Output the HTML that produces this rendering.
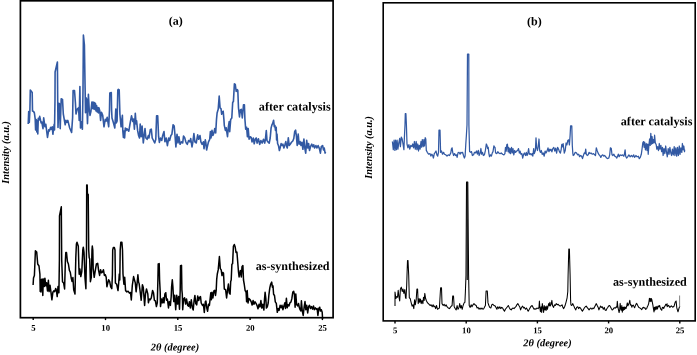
<!DOCTYPE html>
<html><head><meta charset="utf-8"><title>XRD patterns</title>
<style>
html,body{margin:0;padding:0;background:#fff;}
#fig{position:relative;width:697px;height:355px;overflow:hidden;background:#fff;}
svg text{font-family:"Liberation Serif","Times New Roman",serif;font-weight:bold;fill:#000;}
</style></head><body><div id="fig">
<svg width="697" height="355" viewBox="0 0 697 355" style="position:absolute;left:0;top:0">
<rect x="20.4" y="0.8" width="312.7" height="316.9" fill="none" stroke="#000" stroke-width="1.7"/>
<rect x="383.2" y="2.8" width="312" height="318.1" fill="none" stroke="#000" stroke-width="1.6"/>
<line x1="33.2" y1="317.7" x2="33.2" y2="320.1" stroke="#000" stroke-width="1.4"/>
<line x1="105.5" y1="317.7" x2="105.5" y2="320.1" stroke="#000" stroke-width="1.4"/>
<line x1="177.8" y1="317.7" x2="177.8" y2="320.1" stroke="#000" stroke-width="1.4"/>
<line x1="250.1" y1="317.7" x2="250.1" y2="320.1" stroke="#000" stroke-width="1.4"/>
<line x1="322.4" y1="317.7" x2="322.4" y2="320.1" stroke="#000" stroke-width="1.4"/>
<line x1="395.0" y1="320.9" x2="395.0" y2="323.4" stroke="#000" stroke-width="1.4"/>
<line x1="466.2" y1="320.9" x2="466.2" y2="323.4" stroke="#000" stroke-width="1.4"/>
<line x1="537.4" y1="320.9" x2="537.4" y2="323.4" stroke="#000" stroke-width="1.4"/>
<line x1="608.6" y1="320.9" x2="608.6" y2="323.4" stroke="#000" stroke-width="1.4"/>
<line x1="679.8" y1="320.9" x2="679.8" y2="323.4" stroke="#000" stroke-width="1.4"/>
<path d="M28.2,124.0 L28.7,111.5 L29.3,122.5 L29.9,110.5 L30.3,90.0 L32.2,92.5 L32.5,111.0 L33.6,111.5 L34.4,113.0 L35.2,119.2 L35.6,130.0 L36.2,119.5 L36.8,132.0 L37.3,120.5 L37.8,134.0 L38.3,118.2 L39.0,120.0 L39.7,116.4 L41.1,122.9 L41.8,122.0 L43.0,128.6 L43.7,117.8 L44.9,126.7 L45.8,124.2 L47.5,137.5 L48.7,129.9 L49.4,131.0 L50.6,127.4 L51.3,129.3 L52.2,126.7 L52.9,134.3 L54.2,124.2 L54.5,130.0 L55.0,100.0 L55.1,72.0 L57.4,62.0 L57.7,100.0 L58.0,127.4 L58.9,103.2 L59.5,103.8 L60.2,128.6 L61.2,98.8 L62.5,99.4 L63.3,114.0 L65.2,124.8 L65.9,120.4 L66.9,122.3 L67.8,120.4 L69.7,128.0 L71.6,132.4 L72.6,117.8 L73.1,90.5 L74.5,90.5 L75.4,102.6 L76.0,114.0 L77.3,109.0 L78.6,107.7 L79.2,120.4 L79.6,100.0 L79.9,86.5 L80.5,128.0 L81.5,121.7 L82.4,129.3 L83.0,90.0 L83.4,35.0 L84.4,45.0 L85.1,88.0 L85.5,112.8 L85.9,97.6 L86.6,98.8 L87.5,123.6 L88.4,94.4 L89.2,109.0 L90.0,115.4 L90.9,111.6 L91.9,102.0 L92.5,108.5 L93.1,102.0 L93.7,109.0 L94.3,102.5 L94.9,109.5 L95.4,103.2 L96.0,111.0 L96.6,105.5 L97.2,112.0 L98.0,107.5 L98.5,113.0 L98.9,107.8 L99.8,111.0 L100.6,120.5 L101.5,112.2 L102.7,115.4 L104.0,126.8 L105.3,119.2 L106.2,121.1 L107.2,117.3 L108.7,126.8 L109.5,110.0 L109.8,93.0 L111.3,92.6 L111.6,110.0 L112.0,118.0 L113.5,123.0 L114.8,128.0 L115.8,109.0 L116.3,123.0 L117.1,121.0 L117.8,90.0 L118.4,89.4 L119.2,90.0 L119.9,114.1 L121.1,126.8 L121.7,121.7 L122.4,115.4 L122.8,130.6 L123.4,137.5 L124.0,131.0 L124.6,138.0 L125.3,128.0 L126.0,130.6 L126.9,128.7 L128.8,131.2 L130.0,124.0 L131.5,115.8 L132.8,121.5 L133.6,119.0 L134.4,129.1 L135.3,113.2 L136.1,124.0 L136.6,120.9 L137.6,130.4 L138.6,135.5 L139.5,138.0 L140.2,124.0 L141.2,136.7 L142.1,126.0 L143.3,143.0 L145.0,128.5 L145.9,138.0 L147.1,139.3 L148.4,135.5 L149.0,138.0 L150.3,129.7 L151.3,129.1 L152.2,138.0 L153.5,140.5 L154.7,143.0 L155.8,139.3 L156.6,115.8 L157.7,115.8 L158.6,136.7 L159.4,142.4 L160.5,138.0 L161.7,140.5 L162.7,135.5 L164.0,131.6 L164.9,141.8 L166.2,138.0 L167.4,145.6 L168.7,138.0 L169.6,140.5 L170.9,135.5 L171.9,134.2 L173.1,124.7 L174.2,126.0 L175.0,135.5 L175.9,146.9 L177.0,134.2 L178.0,143.0 L178.9,136.7 L180.1,144.3 L181.4,141.8 L182.7,143.0 L183.5,136.1 L184.6,137.4 L185.8,141.8 L186.3,143.0 L187.3,144.3 L188.6,140.5 L189.8,141.8 L190.7,138.6 L192.0,146.9 L192.9,141.8 L193.9,133.5 L194.9,141.8 L196.2,143.0 L197.7,134.8 L198.7,139.3 L200.0,135.5 L200.9,141.8 L202.1,144.3 L203.4,141.8 L204.0,148.8 L205.3,139.9 L205.9,143.0 L206.6,150.0 L207.6,145.6 L208.5,141.8 L209.7,139.3 L210.4,131.6 L211.0,138.0 L212.0,130.4 L212.9,135.5 L213.9,132.9 L214.8,128.5 L215.7,132.9 L216.5,119.4 L217.1,113.0 L218.2,109.3 L219.2,96.0 L220.1,108.0 L221.0,108.6 L221.7,114.3 L222.6,111.8 L223.2,111.2 L223.9,119.4 L224.3,125.3 L225.4,130.4 L226.2,127.8 L227.5,136.7 L228.4,126.6 L229.2,121.5 L229.7,131.6 L230.7,119.4 L231.8,118.0 L232.7,102.3 L233.4,101.6 L234.4,83.9 L235.3,84.5 L236.2,91.5 L237.2,89.6 L237.8,90.2 L238.5,108.0 L239.5,116.9 L240.4,109.9 L241.3,109.3 L242.3,118.0 L243.5,104.8 L244.4,104.8 L244.9,119.0 L245.7,129.2 L246.6,127.3 L247.4,136.8 L248.2,128.6 L249.1,139.3 L250.2,136.8 L251.2,137.4 L252.0,141.9 L253.3,138.0 L254.2,143.8 L255.2,139.3 L256.2,138.0 L257.1,143.1 L258.4,138.7 L259.7,144.4 L260.9,140.6 L262.2,143.1 L263.5,139.3 L264.7,143.1 L265.4,139.3 L266.3,130.5 L267.0,140.6 L267.9,141.9 L269.2,143.1 L270.2,138.0 L271.1,127.9 L272.0,124.7 L272.7,123.5 L273.6,120.3 L274.3,126.6 L274.9,125.4 L275.5,130.5 L276.2,127.3 L276.6,140.0 L277.0,134.0 L277.6,143.5 L278.6,146.0 L279.4,150.5 L280.3,147.3 L281.1,143.6 L282.0,145.5 L282.9,144.2 L283.9,148.0 L284.9,144.8 L285.8,141.6 L286.7,146.7 L287.3,148.0 L288.3,137.8 L289.2,145.5 L290.2,144.2 L291.5,142.3 L292.8,141.0 L293.8,138.5 L294.7,131.5 L295.6,130.2 L296.3,135.3 L297.2,145.5 L298.2,134.0 L299.1,144.2 L300.1,141.6 L301.0,145.5 L301.9,142.3 L302.9,149.3 L303.9,139.1 L304.8,148.0 L305.7,153.1 L306.7,140.4 L307.7,148.0 L308.6,143.6 L309.5,150.5 L310.5,146.7 L311.8,144.2 L312.8,146.7 L313.7,144.8 L314.6,148.0 L315.9,145.5 L316.9,148.0 L318.1,145.5 L319.4,148.6 L320.4,153.1 L321.3,146.7 L322.6,145.5 L323.5,149.9 L324.2,148.0 L325.1,153.1 L325.5,151.8" fill="none" stroke="#3259a3" stroke-width="1.6" stroke-linejoin="round"/>
<path d="M33.1,285.0 L33.5,278.0 L34.4,275.5 L35.4,250.7 L36.7,252.0 L37.7,264.0 L39.0,266.0 L39.9,274.2 L40.2,291.6 L40.6,280.0 L41.0,292.0 L41.4,279.5 L41.8,290.0 L42.2,279.0 L42.8,295.4 L43.2,282.0 L43.7,278.9 L44.3,286.5 L44.9,278.2 L45.8,285.8 L46.6,282.7 L47.5,290.9 L48.4,280.2 L49.1,291.6 L50.0,285.2 L50.9,291.6 L51.9,299.8 L52.9,292.2 L53.8,290.9 L54.7,291.6 L55.7,288.4 L56.4,290.3 L57.2,296.6 L58.0,286.5 L58.9,292.8 L59.4,260.0 L59.5,216.0 L61.3,206.8 L61.7,260.0 L62.5,281.8 L63.6,283.0 L64.6,289.0 L65.4,260.0 L65.8,252.6 L66.5,252.6 L67.4,261.5 L68.4,264.0 L69.4,270.4 L70.3,272.3 L71.2,278.0 L72.0,281.4 L72.9,277.6 L73.7,289.7 L75.0,294.1 L75.8,257.7 L76.4,244.0 L77.0,242.3 L78.3,246.3 L78.9,268.0 L79.2,274.2 L79.9,269.0 L80.8,276.6 L81.8,271.6 L82.8,250.0 L83.3,247.2 L84.0,252.0 L85.0,277.9 L85.9,288.7 L86.5,250.0 L86.7,185.0 L87.2,185.0 L87.4,194.0 L88.2,194.5 L88.7,250.0 L89.2,257.6 L89.7,258.9 L90.4,281.7 L91.3,277.3 L92.0,250.0 L92.3,246.0 L92.8,250.0 L93.2,269.0 L94.2,277.3 L95.1,271.6 L96.4,264.0 L97.7,263.3 L98.6,270.3 L99.6,275.4 L100.6,269.7 L101.5,272.8 L102.4,272.2 L103.4,269.7 L104.4,275.4 L105.3,274.7 L106.2,277.3 L106.9,286.8 L107.8,283.0 L108.7,279.8 L109.7,281.7 L110.7,286.8 L111.8,288.7 L112.4,275.0 L112.7,250.0 L113.3,247.6 L114.4,247.6 L115.0,250.0 L115.4,283.0 L116.7,284.3 L118.0,290.6 L118.7,283.0 L119.3,274.0 L119.8,280.0 L120.2,250.0 L120.8,242.3 L121.9,242.3 L122.5,250.0 L123.0,274.0 L123.9,284.3 L124.7,277.3 L125.6,290.6 L126.9,291.9 L128.1,291.2 L129.4,293.1 L130.5,292.5 L131.3,300.0 L132.3,285.5 L133.6,276.6 L134.4,279.7 L135.3,282.9 L136.1,291.8 L137.0,284.2 L137.9,274.7 L138.6,282.3 L139.1,283.5 L139.9,289.3 L141.2,300.3 L142.4,284.8 L143.3,287.6 L144.6,305.4 L145.5,293.9 L146.5,288.9 L147.8,293.9 L148.4,302.8 L149.3,299.0 L150.3,299.7 L151.3,297.8 L152.6,290.5 L153.5,292.7 L154.4,300.3 L155.4,300.9 L156.4,306.6 L157.3,302.8 L157.9,280.0 L158.2,263.9 L159.2,263.6 L159.6,280.0 L160.2,291.8 L160.5,306.6 L161.5,299.0 L162.4,302.8 L163.2,297.8 L164.0,302.8 L164.9,294.0 L165.8,292.7 L166.5,300.3 L167.4,299.0 L168.5,307.9 L169.3,301.6 L170.4,305.4 L171.2,296.5 L171.6,286.7 L172.3,279.7 L172.9,286.7 L173.4,296.2 L173.8,301.6 L174.7,295.2 L175.7,309.8 L176.7,295.2 L177.6,304.1 L178.6,296.5 L179.5,309.2 L180.2,290.0 L180.5,265.8 L181.5,265.4 L181.9,290.0 L182.3,294.3 L182.7,309.8 L183.6,299.0 L184.6,297.8 L185.6,304.1 L186.5,299.0 L187.7,305.4 L188.6,306.2 L189.4,301.7 L190.3,308.0 L191.3,299.8 L192.4,308.0 L193.2,310.0 L194.1,300.5 L194.9,295.4 L195.8,303.6 L196.7,304.9 L197.7,296.0 L198.7,300.5 L199.6,297.3 L200.5,296.6 L201.2,303.0 L202.5,305.5 L203.4,304.3 L204.3,312.5 L205.3,301.7 L205.9,301.1 L206.8,308.0 L207.6,311.2 L208.5,304.3 L209.4,305.5 L210.1,299.2 L210.8,292.8 L211.4,299.8 L212.0,292.2 L212.9,297.9 L213.9,290.9 L214.8,290.3 L215.5,295.4 L216.2,290.3 L216.7,279.4 L217.3,274.0 L218.2,269.9 L219.4,256.6 L220.3,268.6 L221.2,269.9 L222.0,275.6 L222.7,272.4 L223.5,273.0 L224.0,282.7 L224.3,289.0 L225.6,289.7 L226.6,297.9 L227.5,290.3 L228.4,284.0 L229.2,292.8 L230.1,294.1 L230.7,281.4 L231.2,280.0 L231.9,264.2 L232.6,263.6 L233.4,246.4 L234.3,244.5 L235.2,247.0 L236.0,252.5 L236.9,252.0 L237.4,258.0 L238.5,272.0 L239.1,276.9 L240.4,270.5 L241.3,276.9 L242.0,266.7 L242.9,265.5 L243.5,280.0 L244.2,284.0 L245.1,290.4 L246.1,292.3 L246.6,301.8 L247.2,290.4 L248.0,303.0 L248.9,298.6 L250.2,299.9 L251.2,301.8 L252.1,305.0 L253.1,300.5 L254.0,304.3 L255.0,301.8 L256.2,303.7 L257.1,305.6 L258.0,308.8 L259.0,304.3 L260.0,306.9 L260.9,300.5 L261.8,308.1 L262.8,304.3 L263.9,310.0 L264.5,299.3 L265.1,292.3 L265.8,298.0 L266.4,308.1 L267.3,306.9 L268.2,303.0 L268.9,294.8 L269.8,287.8 L270.7,284.0 L271.7,282.1 L272.4,287.2 L273.0,285.9 L273.6,294.2 L274.5,295.5 L275.3,301.8 L276.3,303.4 L277.3,312.3 L278.2,308.5 L279.1,310.4 L280.1,305.3 L281.1,307.8 L282.0,305.3 L282.9,309.7 L283.9,305.9 L284.9,302.7 L285.5,308.5 L286.4,298.3 L287.2,307.8 L288.1,304.6 L289.0,305.9 L290.0,302.7 L290.9,302.1 L291.8,298.9 L292.8,292.0 L293.7,291.3 L294.4,294.5 L295.1,307.2 L295.8,293.9 L296.6,304.6 L297.6,305.9 L298.5,303.4 L299.4,307.8 L300.1,309.7 L300.8,311.0 L301.4,300.8 L302.3,311.0 L303.2,315.4 L304.2,306.6 L305.0,301.5 L305.8,309.7 L306.7,305.3 L307.7,312.9 L308.6,306.6 L309.5,305.3 L310.5,308.5 L311.5,306.6 L312.6,309.1 L313.5,305.9 L314.3,309.7 L315.4,307.8 L316.2,309.1 L317.1,308.5 L317.9,315.4 L318.8,308.5 L319.7,307.2 L320.4,311.0 L321.3,309.7 L322.2,312.3 L322.6,319.0" fill="none" stroke="#000" stroke-width="1.5" stroke-linejoin="round"/>
<path d="M392.4,141.5 L393.3,149.7 L394.1,140.2 L394.9,150.4 L395.6,140.2 L396.4,149.7 L397.1,140.2 L397.9,149.1 L398.8,142.8 L399.7,138.3 L400.4,146.6 L401.3,137.1 L402.2,139.0 L403.0,144.0 L403.9,149.7 L404.5,135.2 L405.0,125.0 L405.3,113.6 L405.9,113.6 L406.4,125.0 L407.0,144.0 L407.9,147.8 L408.9,144.7 L409.8,149.1 L410.8,145.3 L411.9,146.6 L412.7,144.0 L413.6,147.8 L414.4,141.5 L415.3,149.1 L416.2,141.5 L416.9,149.7 L417.8,144.0 L418.5,151.0 L419.3,145.3 L420.1,149.1 L421.0,141.5 L421.6,147.2 L422.3,139.6 L423.2,146.6 L423.9,139.6 L424.5,145.9 L425.2,137.7 L425.8,139.0 L426.3,150.4 L427.3,152.3 L428.6,154.2 L429.9,153.6 L430.9,156.1 L431.8,154.2 L432.7,155.5 L433.4,158.0 L434.3,153.6 L435.2,152.3 L436.0,151.0 L436.9,154.8 L437.7,156.1 L438.5,152.3 L439.0,130.1 L440.0,130.1 L440.6,152.3 L441.5,151.0 L442.5,154.2 L443.6,152.3 L444.4,154.2 L445.7,154.8 L447.0,156.1 L448.2,154.8 L449.5,155.5 L450.8,152.9 L451.4,149.1 L452.1,147.8 L452.7,152.3 L453.6,155.5 L454.6,153.6 L455.5,155.5 L456.5,154.8 L457.1,157.4 L458.0,152.9 L459.0,152.3 L460.1,154.2 L460.9,152.3 L461.8,152.9 L462.6,152.3 L463.5,155.5 L464.4,158.0 L465.1,156.1 L465.8,144.0 L466.4,135.2 L467.0,125.0 L467.5,54.0 L468.8,54.0 L468.9,125.0 L469.6,151.6 L470.5,152.3 L471.5,151.6 L472.4,155.5 L473.6,154.8 L474.5,152.3 L475.5,152.9 L476.5,151.0 L477.4,154.2 L478.3,150.4 L479.1,155.5 L480.0,153.6 L480.9,148.5 L481.6,154.2 L482.5,152.3 L483.4,155.5 L484.4,154.8 L485.4,150.4 L486.3,144.0 L487.0,145.3 L487.6,148.5 L488.2,147.2 L488.9,153.6 L489.5,156.7 L490.5,154.8 L491.4,156.1 L492.3,152.9 L493.0,151.6 L493.9,145.9 L494.6,147.2 L495.0,147.3 L495.6,153.0 L496.9,153.6 L497.8,151.7 L498.8,153.0 L500.1,153.6 L501.3,153.0 L502.6,154.3 L503.9,154.9 L504.9,153.6 L505.5,147.3 L506.2,151.1 L506.8,144.7 L507.4,144.1 L508.1,151.7 L508.7,147.3 L509.3,153.0 L510.0,148.6 L510.6,153.6 L511.5,147.3 L512.3,153.0 L513.0,148.6 L513.8,154.9 L514.7,150.5 L515.6,152.4 L516.6,151.1 L517.6,150.5 L518.5,148.6 L519.4,153.0 L520.1,151.1 L521.0,154.3 L521.9,153.6 L522.7,158.1 L523.6,154.3 L524.4,153.0 L525.5,155.5 L526.3,152.4 L527.1,155.5 L528.0,152.4 L528.6,148.6 L529.3,154.3 L530.3,153.6 L531.2,154.9 L532.1,153.6 L532.8,156.2 L533.7,148.6 L534.3,153.6 L535.4,150.5 L536.0,137.8 L536.6,147.3 L537.5,150.5 L538.1,147.3 L539.0,139.0 L539.7,150.5 L540.4,152.4 L541.3,150.5 L542.2,154.3 L543.2,153.0 L544.2,156.2 L545.1,151.1 L546.0,153.0 L547.0,151.1 L548.0,147.9 L548.9,151.7 L549.8,149.2 L550.0,150.6 L551.0,149.3 L551.9,151.9 L552.8,148.7 L553.8,147.4 L554.8,151.2 L555.7,148.1 L556.6,153.1 L557.6,147.4 L558.6,149.3 L559.5,151.9 L560.4,153.1 L561.2,149.3 L561.8,144.3 L562.4,146.8 L563.1,143.6 L563.7,148.1 L564.3,153.1 L565.2,150.6 L566.1,143.0 L566.9,144.9 L567.8,140.5 L568.7,139.8 L569.4,144.9 L570.1,135.4 L570.6,125.9 L571.8,125.9 L572.3,145.5 L572.8,153.1 L573.2,155.5 L574.1,154.8 L575.2,152.3 L576.4,152.9 L577.7,154.8 L578.7,154.2 L579.6,156.7 L580.5,155.5 L581.5,156.1 L582.5,158.6 L583.4,155.5 L584.3,152.9 L585.1,153.6 L585.7,149.1 L586.3,154.2 L587.2,155.5 L588.2,154.8 L589.1,152.3 L590.1,153.6 L591.0,152.9 L592.3,154.2 L593.6,153.6 L594.6,154.8 L595.5,155.5 L596.3,147.8 L597.1,150.4 L598.0,152.9 L599.0,154.8 L599.9,155.5 L600.8,157.4 L601.8,155.5 L602.8,154.8 L603.7,156.1 L604.6,155.5 L605.6,156.7 L606.6,158.0 L607.9,158.6 L608.8,158.0 L609.7,154.8 L610.4,147.8 L611.3,148.5 L612.0,154.8 L612.8,155.5 L613.9,154.2 L614.7,156.1 L615.8,156.7 L616.8,158.0 L617.7,156.1 L618.3,154.2 L619.2,156.7 L620.0,154.9 L621.3,155.5 L622.5,154.9 L623.8,156.2 L624.4,154.3 L625.1,149.8 L625.7,156.2 L626.6,158.1 L627.6,156.8 L628.9,154.9 L630.2,156.8 L631.4,155.5 L632.7,156.8 L633.7,154.9 L634.6,157.4 L635.9,155.5 L637.1,156.8 L638.4,156.2 L639.3,158.7 L640.3,157.4 L641.3,154.3 L642.2,147.9 L642.8,142.8 L643.5,141.6 L644.1,147.3 L644.7,142.2 L645.4,149.8 L646.3,143.5 L647.0,150.5 L647.7,144.1 L648.2,154.3 L648.9,145.4 L649.6,139.0 L650.2,145.4 L650.8,133.3 L651.5,144.1 L652.1,136.5 L652.7,143.5 L653.4,139.7 L654.0,142.8 L654.6,135.2 L655.3,142.8 L656.2,144.7 L656.8,149.2 L657.7,146.6 L658.5,150.5 L659.3,143.5 L660.0,149.2 L660.9,145.4 L661.6,151.7 L662.5,147.3 L663.1,155.5 L664.0,148.6 L664.8,153.6 L665.7,146.0 L666.6,153.0 L667.3,156.8 L668.2,148.6 L669.1,154.3 L669.9,147.3 L670.8,153.0 L671.6,155.5 L672.4,149.2 L673.3,154.9 L674.2,146.6 L674.9,155.5 L675.8,147.9 L676.7,156.2 L677.5,147.3 L678.4,155.5 L679.3,146.0 L680.0,154.3 L680.9,147.9 L681.8,152.4 L682.4,143.5 L683.1,149.8 L683.8,146.0 L684.5,151.7 L684.7,149.8" fill="none" stroke="#3259a3" stroke-width="1.25" stroke-linejoin="round"/>
<path d="M395.0,306.1 L395.0,292.1 L395.9,298.5 L396.6,296.6 L397.5,297.2 L398.2,290.2 L398.9,296.6 L399.7,301.0 L400.4,289.0 L401.3,287.1 L402.2,291.5 L403.0,289.0 L403.9,293.4 L404.8,289.6 L405.5,297.8 L406.0,298.5 L406.7,285.2 L407.0,275.0 L407.5,260.4 L408.0,260.4 L408.7,275.0 L409.3,297.8 L410.2,298.5 L411.1,302.3 L412.1,306.1 L413.0,304.8 L413.8,308.6 L414.6,299.7 L415.3,304.8 L416.2,299.7 L416.9,289.0 L417.6,289.0 L418.2,303.6 L419.1,298.5 L419.7,302.3 L420.4,299.1 L421.2,303.6 L422.0,300.4 L422.9,303.6 L423.5,297.2 L424.2,300.4 L424.8,293.4 L425.6,298.5 L426.5,301.0 L427.6,302.9 L428.9,304.2 L430.1,305.5 L431.1,304.8 L432.2,306.7 L433.1,304.8 L433.9,306.7 L434.7,306.1 L435.6,308.6 L436.5,305.5 L437.5,309.3 L438.5,308.6 L439.4,308.0 L440.0,297.8 L440.6,287.7 L441.5,287.7 L442.0,303.6 L443.2,305.5 L444.1,304.2 L445.1,306.1 L446.1,304.8 L447.0,306.7 L448.2,308.0 L449.5,308.6 L450.8,306.7 L452.1,305.5 L452.7,295.9 L453.5,295.9 L454.2,306.7 L455.2,308.6 L456.2,309.9 L457.1,305.5 L458.0,309.3 L459.0,307.4 L459.7,303.6 L460.6,308.0 L461.3,305.5 L462.2,309.3 L463.1,305.5 L464.1,302.9 L464.9,302.3 L465.4,291.5 L466.0,275.0 L466.5,182.0 L467.8,182.0 L468.6,275.0 L469.2,305.5 L470.2,307.4 L471.1,304.8 L472.0,306.7 L473.0,304.8 L474.0,303.6 L474.9,304.8 L476.2,305.5 L477.1,308.0 L478.1,307.4 L479.1,309.3 L480.0,308.0 L480.9,309.3 L481.9,308.0 L482.9,309.3 L483.8,308.6 L484.7,306.7 L485.4,305.5 L486.1,290.9 L487.3,290.9 L488.0,302.9 L488.9,305.5 L489.7,307.4 L490.8,308.0 L491.8,304.8 L492.7,304.2 L493.9,305.5 L495.2,306.1 L496.5,308.6 L496.0,307.4 L496.9,309.3 L497.8,306.7 L498.8,308.6 L499.8,306.7 L500.7,308.6 L501.6,307.4 L502.6,308.0 L503.6,309.9 L504.5,311.2 L505.4,309.3 L506.4,308.0 L507.4,306.7 L508.3,305.5 L509.2,307.4 L510.2,309.3 L511.2,309.9 L512.1,308.6 L513.0,308.0 L514.0,308.6 L515.1,307.4 L515.9,306.7 L516.8,304.8 L517.8,303.6 L518.9,305.5 L519.7,306.7 L520.6,309.9 L521.6,307.4 L522.7,306.1 L523.6,308.0 L524.4,307.4 L525.5,309.3 L526.5,308.0 L527.4,309.9 L528.2,311.2 L529.3,309.3 L530.3,307.4 L531.2,306.1 L532.1,305.5 L533.1,307.4 L534.1,309.3 L535.0,308.6 L535.9,309.3 L536.9,308.0 L538.1,308.6 L539.0,307.4 L539.4,301.0 L539.9,308.0 L540.4,311.8 L541.1,306.7 L541.7,312.4 L542.3,303.6 L543.0,308.0 L543.6,312.4 L544.2,305.5 L544.9,309.9 L545.5,306.7 L546.1,310.5 L546.8,306.1 L547.4,309.3 L548.0,306.7 L548.7,303.6 L549.3,305.5 L549.9,302.3 L550.0,306.1 L551.0,304.8 L551.9,300.4 L552.5,305.5 L553.6,307.4 L554.4,304.8 L555.3,305.5 L556.3,303.6 L557.4,304.8 L558.2,304.2 L559.1,305.5 L560.2,306.1 L561.2,305.5 L562.1,304.8 L562.9,307.4 L563.7,308.6 L564.6,306.7 L565.5,304.2 L566.2,301.6 L567.1,297.8 L567.8,291.5 L568.1,275.0 L568.8,249.0 L569.4,249.0 L570.1,275.0 L570.6,300.4 L570.9,304.8 L571.8,305.5 L572.8,303.6 L573.9,306.1 L574.7,308.0 L575.8,309.9 L576.6,307.4 L577.7,306.7 L578.6,308.6 L579.4,307.4 L580.5,308.0 L581.5,309.9 L582.4,311.2 L583.2,309.9 L584.3,308.0 L585.3,306.7 L586.2,306.1 L587.1,307.4 L588.1,308.6 L589.1,309.9 L590.0,308.6 L590.9,308.0 L591.9,309.3 L592.9,308.0 L593.8,308.6 L594.7,306.7 L595.7,304.8 L596.3,303.6 L597.2,305.5 L598.2,307.4 L598.9,309.9 L599.7,308.0 L600.5,306.1 L601.4,307.4 L602.3,306.7 L603.3,309.3 L604.3,307.4 L605.0,309.9 L606.0,310.5 L606.9,308.6 L607.0,308.5 L607.9,307.2 L608.7,305.9 L609.6,305.5 L610.4,306.8 L611.3,308.5 L612.2,310.0 L613.0,309.4 L613.9,308.1 L614.8,307.7 L615.6,308.1 L616.3,306.8 L616.9,307.2 L617.3,301.2 L617.9,307.2 L618.4,309.4 L619.1,312.6 L619.7,309.4 L620.2,303.4 L620.6,308.1 L621.2,310.3 L621.8,305.5 L622.3,312.2 L622.9,307.2 L623.6,310.3 L624.1,306.8 L624.7,309.4 L625.3,307.2 L626.0,308.5 L626.7,305.9 L627.3,302.9 L627.9,305.9 L628.6,304.2 L629.2,302.9 L629.8,300.3 L630.4,305.1 L631.1,304.7 L631.8,307.2 L632.5,305.5 L633.3,305.1 L633.9,306.4 L634.6,307.7 L635.3,305.9 L636.0,304.2 L636.7,303.4 L637.4,304.7 L638.0,305.9 L638.7,307.2 L639.4,307.7 L640.2,308.1 L641.1,309.0 L641.7,309.7 L642.5,308.1 L643.2,307.2 L644.1,308.1 L644.9,307.7 L645.8,309.4 L646.7,308.5 L647.3,306.8 L648.0,305.5 L648.6,303.8 L649.1,300.8 L649.4,298.2 L649.9,301.2 L650.4,298.6 L650.9,301.6 L651.3,298.6 L651.8,299.5 L652.3,302.1 L652.9,305.1 L653.4,308.5 L654.0,312.0 L654.4,307.2 L654.9,310.3 L655.4,306.8 L656.1,309.4 L656.8,306.4 L657.5,309.0 L658.2,305.9 L658.9,306.8 L659.6,305.5 L660.3,308.1 L661.0,309.4 L661.7,310.3 L662.3,307.7 L663.0,307.2 L663.7,308.5 L664.4,306.8 L665.1,305.9 L665.8,304.2 L666.5,305.1 L667.1,303.8 L667.2,306.7 L668.5,305.4 L669.9,307.4 L671.3,305.8 L672.7,307.2 L674.0,306.3 L675.2,302.1 L676.1,301.0 L676.8,307.9 L678.0,311.8 L679.1,307.9 L679.8,306.3" fill="none" stroke="#000" stroke-width="1.05" stroke-linejoin="round"/>
<line x1="467.15" y1="182.3" x2="467.25" y2="280" stroke="#000" stroke-width="1.2"/>
<line x1="679.6" y1="295.5" x2="679.6" y2="307" stroke="#777" stroke-width="0.9"/>
<text x="168.8" y="24.8" font-size="12" text-anchor="start" style="" transform="rotate(0.03 168.8 24.8)">(a)</text>
<text x="258.8" y="110.5" font-size="12.2" text-anchor="start" style="" transform="rotate(0.03 258.8 110.5)">after catalysis</text>
<text x="255.7" y="270" font-size="12.1" text-anchor="start" style="" transform="rotate(0.03 255.7 270)">as-synthesized</text>
<text x="33.400000000000006" y="330.8" font-size="8.7" text-anchor="middle" style="" transform="rotate(0.03 33.400000000000006 330.8)">5</text>
<text x="105.7" y="330.8" font-size="8.7" text-anchor="middle" style="" transform="rotate(0.03 105.7 330.8)">10</text>
<text x="178.0" y="330.8" font-size="8.7" text-anchor="middle" style="" transform="rotate(0.03 178.0 330.8)">15</text>
<text x="250.29999999999995" y="330.8" font-size="8.7" text-anchor="middle" style="" transform="rotate(0.03 250.29999999999995 330.8)">20</text>
<text x="322.59999999999997" y="330.8" font-size="8.7" text-anchor="middle" style="" transform="rotate(0.03 322.59999999999997 330.8)">25</text>
<text x="150.8" y="350.4" font-size="10.4" text-anchor="start" style="font-style:italic;" transform="rotate(0.03 150.8 350.4)">2θ (degree)</text>
<text x="0" y="0" font-size="10.3" text-anchor="start" style="font-style:italic;" transform="translate(8.5,183.7) rotate(-90)">Intensity (a.u.)</text>
<text x="527" y="25.3" font-size="12" text-anchor="start" style="" transform="rotate(0.03 527 25.3)">(b)</text>
<text x="620.8" y="125.2" font-size="12.15" text-anchor="start" style="" transform="rotate(0.03 620.8 125.2)">after catalysis</text>
<text x="612.9" y="285.8" font-size="12.1" text-anchor="start" style="" transform="rotate(0.03 612.9 285.8)">as-synthesized</text>
<text x="395.2" y="333.3" font-size="8.7" text-anchor="middle" style="" transform="rotate(0.03 395.2 333.3)">5</text>
<text x="466.4" y="333.3" font-size="8.7" text-anchor="middle" style="" transform="rotate(0.03 466.4 333.3)">10</text>
<text x="537.6" y="333.3" font-size="8.7" text-anchor="middle" style="" transform="rotate(0.03 537.6 333.3)">15</text>
<text x="608.8000000000001" y="333.3" font-size="8.7" text-anchor="middle" style="" transform="rotate(0.03 608.8000000000001 333.3)">20</text>
<text x="680.0" y="333.3" font-size="8.7" text-anchor="middle" style="" transform="rotate(0.03 680.0 333.3)">25</text>
<text x="523.3" y="346.3" font-size="10.4" text-anchor="start" style="font-style:italic;" transform="rotate(0.03 523.3 346.3)">2θ (degree)</text>
<text x="0" y="0" font-size="10.3" text-anchor="start" style="font-style:italic;" transform="translate(371.9,178.7) rotate(-90)">Intensity (a.u.)</text>
</svg>
</div></body></html>
